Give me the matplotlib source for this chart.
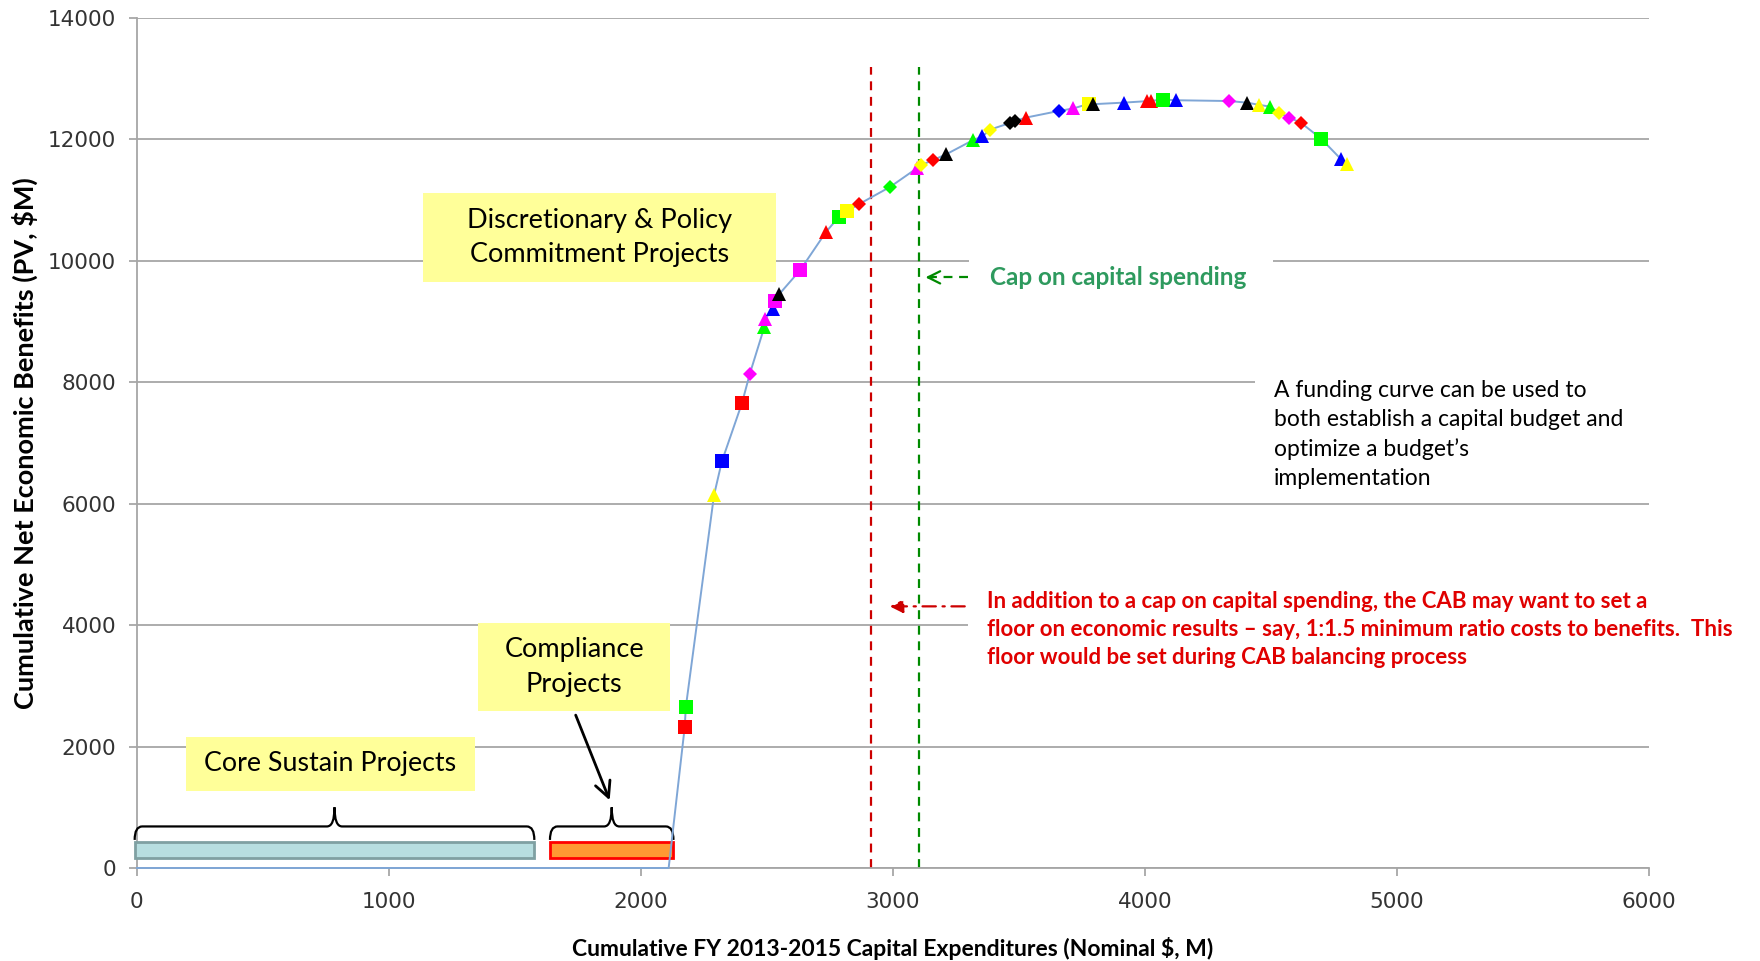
import matplotlib
matplotlib.use("Agg")
import matplotlib.pyplot as plt
from matplotlib.patches import Rectangle, PathPatch
from matplotlib.path import Path

# ---------------- data ----------------
base_x = [0, 2110]          # zero-benefit portion of the curve (core sustain + compliance)
base_y = [0, 0]

pt_x = [2174, 2178, 2290, 2321, 2401, 2432, 2490, 2493, 2523, 2532, 2549, 2632,
        2735, 2786, 2817, 2866, 2989, 3094, 3112, 3158, 3211, 3317, 3355, 3386,
        3465, 3485, 3529, 3659, 3716, 3780, 3795, 3917, 4008, 4025, 4073, 4124,
        4334, 4406, 4454, 4497, 4532, 4573, 4620, 4699, 4779, 4801]
pt_y = [2330, 2645, 6140, 6695, 7657, 8138, 8914, 9043, 9205, 9340, 9452, 9847,
        10479, 10726, 10820, 10935, 11218, 11522, 11577, 11657, 11754, 11986, 12050, 12162,
        12271, 12305, 12360, 12469, 12510, 12590, 12580, 12606, 12630, 12636, 12656, 12645,
        12632, 12605, 12568, 12540, 12436, 12360, 12271, 12012, 11670, 11596]
pt_marker = ['s', 's', '^', 's', 's', 'D', '^', '^', '^', 's', '^', 's',
             '^', 's', 's', 'D', 'D', '^', 'D', 'D', '^', '^', '^', 'D',
             'D', 'D', '^', 'D', '^', 's', '^', '^', '^', '^', 's', '^',
             'D', '^', '^', '^', 'D', 'D', 'D', 's', '^', '^']
pt_color = ['red', 'lime', 'yellow', 'blue', 'red', 'magenta', 'lime', 'magenta', 'blue', 'magenta', 'black', 'magenta',
            'red', 'lime', 'yellow', 'red', 'lime', 'magenta', 'yellow', 'red', 'black', 'lime', 'blue', 'yellow',
            'black', 'black', 'red', 'blue', 'magenta', 'yellow', 'black', 'blue', 'red', 'red', 'lime', 'blue',
            'magenta', 'black', 'yellow', 'lime', 'yellow', 'magenta', 'red', 'lime', 'blue', 'yellow']

cap_spending = 3105
floor_spending = 2913

core_range = (-9, 1577)
compliance_range = (1639, 2129)

x_ticks = [0, 1000, 2000, 3000, 4000, 5000, 6000]
y_ticks = [0, 2000, 4000, 6000, 8000, 10000, 12000, 14000]

x_label = "Cumulative FY 2013-2015 Capital Expenditures (Nominal $, M)"
y_label = "Cumulative Net Economic Benefits (PV, $M)"

# ---------------- figure ----------------
fig = plt.figure(figsize=(17.6, 9.61), dpi=100)
ax = fig.add_axes([0.0778, 0.0968, 0.8591, 0.8845])
ax.set_xlim(0, 6000)
ax.set_ylim(0, 14000)

ax.set_xticks(x_ticks)
ax.set_yticks(y_ticks)
ax.tick_params(axis='both', labelsize=15.5, length=6, width=1.2, color='#A0A0A0')
ax.tick_params(axis='x', pad=11)
ax.tick_params(axis='y', pad=9)
for lab in ax.get_xticklabels() + ax.get_yticklabels():
    lab.set_color('#333333')
ax.grid(axis='y', color='#A6A6A6', lw=1.3, zorder=0)
ax.set_axisbelow(True)
for s in ['top', 'right']:
    ax.spines[s].set_visible(False)
ax.spines['left'].set_color('#A6A6A6')
ax.spines['left'].set_linewidth(1.3)
ax.spines['bottom'].set_color('#A6A6A6')
ax.spines['bottom'].set_linewidth(1.3)

ax.set_xlabel(x_label, fontsize=16.5, fontweight='bold', family='Lato', labelpad=18)
ax.set_ylabel(y_label, fontsize=19.5, fontweight='bold', family='Lato', labelpad=7)

# white masks behind text (hide gridlines)
ax.add_patch(Rectangle((3300, 9420), 1210, 600, facecolor='white', edgecolor='none', zorder=1))
ax.add_patch(Rectangle((4437, 6250), 1600, 2000, facecolor='white', edgecolor='none', zorder=1, clip_on=False))
ax.add_patch(Rectangle((3296, 3250), 2800, 1400, facecolor='white', edgecolor='none', zorder=1, clip_on=False))

# yellow label boxes
box_kw = dict(facecolor='#FFFF99', edgecolor='none', zorder=2)
ax.add_patch(Rectangle((1136, 9654), 1399, 1461, **box_kw))
ax.add_patch(Rectangle((1354, 2589), 762, 1443, **box_kw))
ax.add_patch(Rectangle((196, 1276), 1145, 888, **box_kw))
ax.text(1835, 10385, "Discretionary & Policy\nCommitment Projects", ha='center', va='center',
        fontsize=19.5, family='Lato', linespacing=1.48, zorder=3)
ax.text(1735, 3310, "Compliance\nProjects", ha='center', va='center',
        fontsize=19.5, family='Lato', linespacing=1.48, zorder=3)
ax.text(768, 1720, "Core Sustain Projects", ha='center', va='center',
        fontsize=19.3, family='Lato', zorder=3)

# bars
ax.add_patch(Rectangle((core_range[0], 166), core_range[1] - core_range[0], 259,
                       facecolor='#B7DEE0', edgecolor='#7FA0A2', lw=2, zorder=3, clip_on=False))
ax.add_patch(Rectangle((compliance_range[0], 166), compliance_range[1] - compliance_range[0], 259,
                       facecolor='#FF9933', edgecolor='#FF0000', lw=2, zorder=3, clip_on=False))


def brace(x0, x1, ybase, yline, ytip, dx=30):
    xm = (x0 + x1) / 2
    verts = [(x0, ybase), (x0, yline), (x0 + dx, yline),
             (xm - dx, yline), (xm, yline), (xm, ytip),
             (xm, yline), (xm + dx, yline),
             (x1 - dx, yline), (x1, yline), (x1, ybase)]
    codes = [Path.MOVETO, Path.CURVE3, Path.CURVE3,
             Path.LINETO, Path.CURVE3, Path.CURVE3,
             Path.CURVE3, Path.CURVE3,
             Path.LINETO, Path.CURVE3, Path.CURVE3]
    ax.add_patch(PathPatch(Path(verts, codes), facecolor='none', edgecolor='black', lw=1.6,
                           zorder=3, clip_on=False))


brace(core_range[0], core_range[1], 462, 684, 999)
brace(compliance_range[0], compliance_range[1], 462, 684, 999)

ax.annotate('', xy=(1880, 1073), xytext=(1737, 2560),
            arrowprops=dict(arrowstyle='->', lw=2, color='black', mutation_scale=28), zorder=4)

# vertical dashed lines
ax.plot([floor_spending, floor_spending], [0, 13200], color='#CC0000', lw=1.6, ls=(0, (4, 3)), zorder=2)
ax.plot([cap_spending, cap_spending], [0, 13200], color='#008A00', lw=1.6, ls=(0, (4, 3)), zorder=2)

# curve
line_x = base_x + pt_x
line_y = base_y + pt_y
ax.plot(line_x, line_y, color='#7FA6D6', lw=1.4, zorder=4, clip_on=False)
size_map = {'s': 10.5, '^': 9.8, 'D': 7.4}
for x, y, m, c in zip(pt_x, pt_y, pt_marker, pt_color):
    ax.plot([x], [y], marker=m, color=c, markersize=size_map[m], markeredgewidth=0,
            ls='none', zorder=5)

# green annotation
ax.plot([3140, 3305], [9728, 9728], color='#008A00', lw=1.6, ls=(0, (4, 3)), zorder=3)
ax.annotate('', xy=(3118, 9728), xytext=(3170, 9728),
            arrowprops=dict(arrowstyle='->', lw=1.6, color='#008A00', mutation_scale=22), zorder=3)
ax.text(3385, 9728, "Cap on capital spending", ha='left', va='center', fontsize=17.5,
        fontweight='bold', family='Lato', color='#2E9A5E', zorder=3)

# red annotation
ax.annotate('', xy=(2976, 4309), xytext=(3296, 4309),
            arrowprops=dict(arrowstyle='-|>', lw=1.6, color='#CC0000', ls=(0, (6, 3, 1, 3)),
                            mutation_scale=20), zorder=3)
ax.text(3372, 4309 + 260,
        "In addition to a cap on capital spending, the CAB may want to set a\n"
        "floor on economic results \u2013 say, 1:1.5 minimum ratio costs to benefits.  This\n"
        "floor would be set during CAB balancing process",
        ha='left', va='top', fontsize=16, fontweight='bold', family='Lato', color='#E00000',
        linespacing=1.42, zorder=3, clip_on=False)

# black annotation
ax.text(4512, 8030,
        "A funding curve can be used to\nboth establish a capital budget and\noptimize a budget\u2019s\nimplementation",
        ha='left', va='top', fontsize=16.5, family='Lato', color='black', linespacing=1.45, zorder=3)

fig.savefig("out.png", dpi=100)
